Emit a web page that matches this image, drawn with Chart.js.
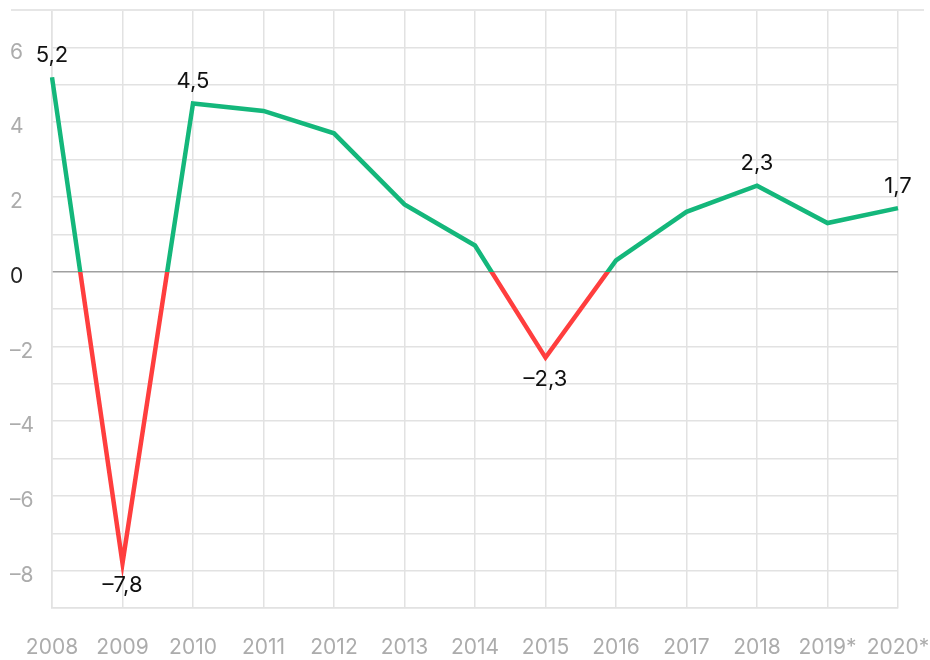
<!DOCTYPE html>
<html>
<head>
<meta charset="utf-8">
<script src="https://cdn.jsdelivr.net/npm/chart.js@4/dist/chart.umd.min.js"></script>
<style>
  html, body { margin: 0; padding: 0; background: #fff; }
  #wrap { position: relative; width: 930px; height: 660px; }
  #topline { position: absolute; left: 11px; right: 6px; top: 9px; border-top: 2px solid #e6e6e6; }
</style>
</head>
<body>
<div id="wrap">
  <canvas id="gdp" width="930" height="660"></canvas>
  <div id="topline"></div>
</div>
<script>
const years = ["2008", "2009", "2010", "2011", "2012", "2013", "2014", "2015", "2016", "2017", "2018", "2019*", "2020*"];
const growth = [5.2, -7.8, 4.5, 4.3, 3.7, 1.8, 0.7, -2.3, 0.3, 1.6, 2.3, 1.3, 1.7];
// which points get a value label, and on which side of the line
const labelled = { 0: "above", 1: "below", 2: "above", 7: "below", 10: "above", 12: "above" };

const GREEN = "#14b77b";
const RED = "#ff3e3e";

const fmt = v => (v < 0 ? "–" : "") + Math.abs(v).toString().replace(".", ",");

// green above zero, red below, switching exactly at the zero line
function signColor(context) {
  const chart = context.chart;
  const area = chart.chartArea;
  if (!area) return GREEN;
  const zero = chart.scales.y.getPixelForValue(0);
  const f = Math.min(1, Math.max(0, (zero - area.top) / (area.bottom - area.top)));
  const g = chart.ctx.createLinearGradient(0, area.top, 0, area.bottom);
  g.addColorStop(0, GREEN);
  g.addColorStop(f, GREEN);
  g.addColorStop(f, RED);
  g.addColorStop(1, RED);
  return g;
}

const valueLabels = {
  id: "valueLabels",
  afterDatasetsDraw(chart) {
    const ctx = chart.ctx;
    const meta = chart.getDatasetMeta(0);
    ctx.save();
    ctx.font = "22px Inter";
    ctx.fillStyle = "#111";
    ctx.textAlign = "center";
    ctx.textBaseline = "middle";
    Object.keys(labelled).forEach(k => {
      const i = Number(k);
      const pt = meta.data[i];
      const dy = labelled[k] === "above" ? -22 : 22;
      ctx.fillText(fmt(growth[i]), pt.x, pt.y + dy);
    });
    ctx.restore();
  }
};

new Chart(document.getElementById("gdp"), {
  type: "line",
  data: {
    labels: years,
    datasets: [{
      data: growth,
      borderColor: signColor,
      borderWidth: 4.5,
      tension: 0,
      pointRadius: 0,
      fill: false,
      borderJoinStyle: "miter"
    }]
  },
  options: {
    responsive: false,
    animation: false,
    layout: { padding: { top: 10, right: 32, left: 10, bottom: 0 } },
    plugins: { legend: { display: false }, tooltip: { enabled: false } },
    scales: {
      x: {
        offset: false,
        grid: { color: "#e2e2e2", lineWidth: 1.5, drawTicks: false, tickLength: 0 },
        border: { color: "#e2e2e2", width: 1.5 },
        ticks: {
          color: "#acacac",
          font: { family: "Inter", size: 21 },
          padding: 27,
          maxRotation: 0,
          autoSkip: false
        },
        // let the end labels hang outside the plot instead of shrinking it
        afterFit: s => { s.height = 52; s.paddingLeft = 0; s.paddingRight = 0; }
      },
      y: {
        min: -9,
        max: 7,
        grid: {
          color: c => (c.tick && c.tick.value === 0 ? "#a0a0a0" : "#e2e2e2"),
          lineWidth: 1.5,
          drawTicks: false,
          tickLength: 0
        },
        border: { color: "#e2e2e2", width: 1.5 },
        ticks: {
          stepSize: 1,
          crossAlign: "far",
          padding: 8,
          labelOffset: 5,
          color: c => (c.tick.value === 0 ? "#222" : "#acacac"),
          font: { family: "Inter", size: 21 },
          callback: v => (v % 2 === 0 ? fmt(v) : "")
        },
        afterFit: s => { s.width = 42; s.paddingTop = 0; s.paddingBottom = 0; }
      }
    }
  },
  plugins: [valueLabels]
});
</script>
</body>
</html>
